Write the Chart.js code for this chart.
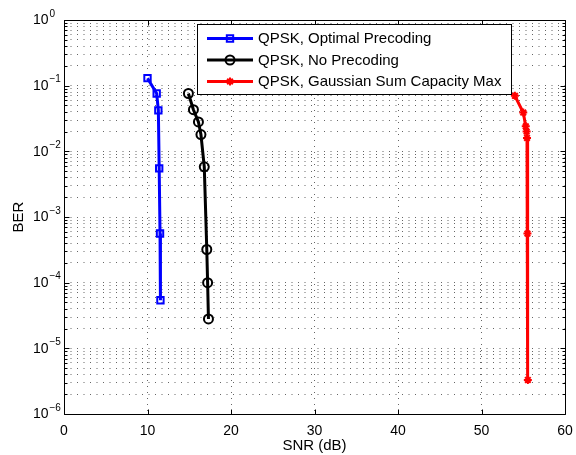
<!DOCTYPE html>
<html><head><meta charset="utf-8">
<script src="https://cdn.jsdelivr.net/npm/chart.js@4/dist/chart.umd.min.js"></script>
<style>html,body{margin:0;padding:0;background:#fff}#wrap{width:576px;height:455px}</style>
</head><body><div id="wrap"><canvas id="c" width="576" height="455"></canvas></div>
<script>
// ---- data ----
const xTicks = [0, 10, 20, 30, 40, 50, 60];
const yDecades = [1e-6, 1e-5, 1e-4, 1e-3, 1e-2, 1e-1, 1];
const yExponents = ['\u22126', '\u22125', '\u22124', '\u22123', '\u22122', '\u22121', '0'];
const yMinorMult = [2, 3, 4, 5, 6, 7, 8, 9];

const seriesLabels = ['QPSK, Optimal Precoding', 'QPSK, No Precoding', 'QPSK, Gaussian Sum Capacity Max'];

const optSNR = [10.0, 11.1, 11.3, 11.4, 11.5, 11.55];
const optBER = [0.13, 0.076, 0.042, 0.0055, 5.6e-4, 5.4e-5];

const noSNR = [14.9, 15.5, 16.1, 16.4, 16.8, 17.1, 17.2, 17.3];
const noBER = [0.076, 0.043, 0.028, 0.018, 0.0058, 3.2e-4, 1.0e-4, 2.8e-5];

const gaussSNR = [54.0, 55.0, 55.3, 55.4, 55.45, 55.5, 55.55];
const gaussBER = [0.070, 0.039, 0.024, 0.020, 0.016, 5.6e-4, 3.3e-6];

// ---- build ----
const FONT = "'Liberation Sans', Arial, Helvetica, sans-serif";
const pts = (xs, ys) => xs.map((v, i) => ({x: v, y: ys[i]}));
const yGridValues = [];
yDecades.forEach((d, i) => {
  yGridValues.push(d);
  if (i < yDecades.length - 1) yMinorMult.forEach(m => yGridValues.push(d * m));
});

const styles = [
  {color: '#0000ff', pointStyle: 'rect', radius: 4.5, bw: 2},
  {color: '#000000', pointStyle: 'circle', radius: 4.5, bw: 2},
  {color: '#ff0000', pointStyle: 'star', radius: 4, bw: 2}
];
const seriesData = [pts(optSNR, optBER), pts(noSNR, noBER), pts(gaussSNR, gaussBER)];

const datasets = seriesData.map((d, i) => ({
  label: seriesLabels[i],
  data: d,
  borderColor: styles[i].color,
  backgroundColor: 'rgba(0,0,0,0)',
  borderWidth: 3,
  pointStyle: styles[i].pointStyle,
  pointRadius: styles[i].radius,
  pointBorderWidth: styles[i].bw,
  pointBorderColor: styles[i].color,
  pointBackgroundColor: 'rgba(0,0,0,0)',
  showLine: true,
  tension: 0
}));

const al = v => Math.round(v) + 0.5;

const axesPlugin = {
  id: 'matlabAxes',
  afterDatasetsDraw(chart) {
    const {ctx, scales: {x, y}} = chart;
    ctx.save();
    ctx.strokeStyle = '#000';
    ctx.lineWidth = 1;
    const L = al(x.getPixelForValue(0)), R = al(x.getPixelForValue(60));
    const T = al(y.getPixelForValue(1)), B = al(y.getPixelForValue(1e-6));
    ctx.beginPath();
    ctx.rect(L, T, R - L, B - T);
    xTicks.forEach(v => {
      const px = al(x.getPixelForValue(v));
      ctx.moveTo(px, B); ctx.lineTo(px, B - 5);
      ctx.moveTo(px, T); ctx.lineTo(px, T + 5);
    });
    yGridValues.forEach(v => {
      const py = al(y.getPixelForValue(v));
      const len = yDecades.includes(v) ? 5 : 3;
      ctx.moveTo(L, py); ctx.lineTo(L + len, py);
      ctx.moveTo(R, py); ctx.lineTo(R - len, py);
    });
    ctx.stroke();
    ctx.fillStyle = '#000';
    yDecades.forEach((v, i) => {
      const py = y.getPixelForValue(v);
      ctx.font = '14px ' + FONT;
      ctx.textAlign = 'right';
      ctx.textBaseline = 'middle';
      ctx.fillText('10', 48.5, py + 0.5);
      ctx.font = '10px ' + FONT;
      ctx.textAlign = 'left';
      ctx.fillText(yExponents[i], 49.5, py - 6);
    });
    // legend
    const bx = 197.5, by = 24.5, bw = 314, bh = 70;
    ctx.fillStyle = '#fff';
    ctx.fillRect(bx, by, bw, bh);
    ctx.strokeStyle = '#000';
    ctx.lineWidth = 1;
    ctx.strokeRect(bx, by, bw, bh);
    chart.data.datasets.forEach((ds, i) => {
      const yy = 38.5 + i * 21.5;
      ctx.strokeStyle = ds.borderColor;
      ctx.lineWidth = 3;
      ctx.beginPath();
      ctx.moveTo(207, yy); ctx.lineTo(253, yy);
      ctx.stroke();
      ctx.fillStyle = 'rgba(0,0,0,0)';
      ctx.lineWidth = ds.pointBorderWidth;
      Chart.helpers.drawPoint(ctx, {pointStyle: ds.pointStyle, rotation: 0, radius: ds.pointRadius, borderWidth: ds.pointBorderWidth}, 230, yy);
      ctx.fillStyle = '#000';
      ctx.font = '15px ' + FONT;
      ctx.textAlign = 'left';
      ctx.textBaseline = 'middle';
      ctx.fillText(ds.label, 258, yy + 0.5);
    });
    ctx.restore();
  }
};

new Chart(document.getElementById('c'), {
  type: 'line',
  data: {datasets},
  options: {
    responsive: false,
    devicePixelRatio: 1,
    animation: false,
    events: [],
    layout: {padding: {top: 20, right: 11, left: 0, bottom: 0}},
    plugins: {legend: {display: false}, tooltip: {enabled: false}},
    scales: {
      x: {
        type: 'linear', min: 0, max: 60,
        afterBuildTicks: s => { s.ticks = xTicks.map(v => ({value: v})); },
        afterFit: s => { s.height = 41; s.paddingLeft = 0; s.paddingRight = 0; },
        ticks: {color: '#000', font: {family: FONT, size: 14}, padding: 9, maxRotation: 0},
        grid: {color: 'rgba(0,0,0,0.6)', lineWidth: 1, drawTicks: false},
        border: {display: false, dash: [1, 5]},
        title: {display: true, text: 'SNR (dB)', color: '#000', font: {family: FONT, size: 15}, padding: {top: 0, bottom: 0}}
      },
      y: {
        type: 'logarithmic', min: 1e-6, max: 1,
        afterBuildTicks: s => { s.ticks = yGridValues.map(v => ({value: v})); },
        afterFit: s => { s.width = 64; s.paddingTop = 0; s.paddingBottom = 0; },
        ticks: {display: false},
        grid: {color: 'rgba(0,0,0,0.6)', lineWidth: 1, drawTicks: false},
        border: {display: false, dash: [1, 5.5]},
        title: {display: true, text: 'BER', color: '#000', font: {family: FONT, size: 15}, padding: {top: 10, bottom: 0}}
      }
    }
  },
  plugins: [axesPlugin]
});
</script></body></html>
